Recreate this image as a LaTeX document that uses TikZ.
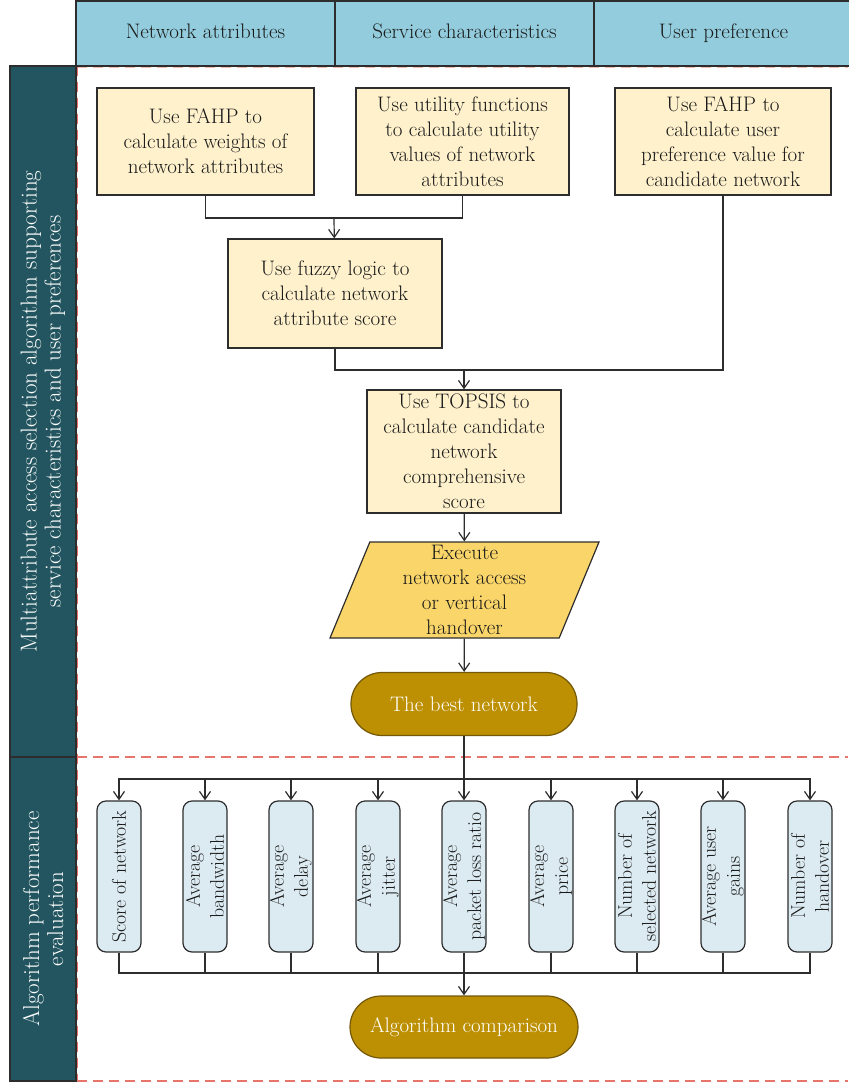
\documentclass[tikz,border=0pt]{standalone}
\usetikzlibrary{arrows.meta,shapes.geometric}

\definecolor{hdrblue}{RGB}{147,205,221}
\definecolor{laneteal}{RGB}{34,85,95}
\definecolor{boxyel}{RGB}{254,241,204}
\definecolor{execyel}{RGB}{250,214,106}
\definecolor{bestgold}{RGB}{189,144,3}
\definecolor{goalline}{RGB}{115,88,10}
\definecolor{metblue}{RGB}{220,235,242}
\definecolor{dashred}{RGB}{232,116,108}
\definecolor{linegray}{RGB}{45,45,45}

\tikzset{every picture/.style={line width=1.2pt},
  txt/.style={font=\fontsize{21pt}{25pt}\selectfont, align=center, inner sep=0pt, text=black!90},
  hdr/.style={txt, draw=linegray, fill=hdrblue, minimum width=259pt, minimum height=65pt, text height=15pt, text depth=4pt},
  lane/.style={txt, font=\fontsize{23pt}{24pt}\selectfont, draw=linegray, fill=laneteal, text=white, rotate=90, minimum height=66pt},
  calcbox/.style={txt, draw=linegray, fill=boxyel},
  execbox/.style={txt, draw=linegray, fill=execyel, trapezium, trapezium left angle=66, trapezium right angle=114, trapezium stretches body, minimum width=269pt, minimum height=96pt},
  goal/.style={txt, draw=goalline, fill=bestgold, text=white, rounded corners=31pt, minimum width=226pt, minimum height=63pt},
  metric/.style={txt, font=\fontsize{19.8pt}{24pt}\selectfont, draw=linegray, fill=metblue, rotate=90, rounded corners=9pt, minimum width=151pt, minimum height=44pt},
  flow/.style={draw=linegray, -{Straight Barb[length=8pt,width=11pt]}},
  link/.style={draw=linegray},
  zone/.style={draw=dashred, line width=1.4pt, dash pattern=on 10pt off 6pt}}

\begin{document}
\begin{tikzpicture}[x=1pt,y=1pt,yscale=-1,xscale=1]
\useasboundingbox (0,0) rectangle (848,1083);

%Dashed zones
\draw[zone] (77,66) -- (77,1081);
\draw[zone, draw opacity=0.5] (77,67) -- (848,67);
\draw[zone] (77,757) -- (848,757);
\draw[zone] (77,1081) -- (848,1081);

%Header
\node[hdr] (hnet) at (205.5,33.5) {Network attributes};
\node[hdr] (hsrv) at (464.5,33.5) {Service characteristics};
\node[hdr] (husr) at (723.5,33.5) {User preference};

%Lanes
\node[lane, minimum width=691pt] (lanesel) at (43,411.5) {Multiattribute access selection algorithm supporting\\service characteristics and user preferences};
\node[lane, minimum width=324pt] (laneeval) at (43,919) {Algorithm performance\\evaluation};

%Selection steps
\node[calcbox, minimum width=217pt, minimum height=107pt] (fahpw) at (205.5,141.5) {Use FAHP to\\calculate weights of\\network attributes};
\node[calcbox, minimum width=213pt, minimum height=107pt] (util) at (462.5,141.5) {Use utility functions\\to calculate utility\\values of network\\attributes};
\node[calcbox, minimum width=216pt, minimum height=107pt] (fahpu) at (723,141.5) {Use FAHP to\\calculate user\\preference value for\\candidate network};
\node[calcbox, minimum width=214pt, minimum height=109pt] (fuzzy) at (335,293.5) {Use fuzzy logic to\\calculate network\\attribute score};
\node[calcbox, minimum width=194pt, minimum height=123pt] (topsis) at (464,451.5) {Use TOPSIS to\\calculate candidate\\network\\comprehensive\\score};
\node[execbox] (exec) at (464.5,590) {Execute\\network access\\or vertical\\handover};
\node[goal] (best) at (464,704) {The best network};

%Joints
\coordinate (jw) at (334,218);
\coordinate (js) at (464,370);
\coordinate (tj) at (464,779);
\coordinate (bj) at (464,973);

%Straight Lines
\draw[link] (fahpw) |- (jw);
\draw[link] (util) |- (jw);
\draw[flow] (jw) -- (fuzzy);
\draw[link] (fuzzy) |- (js);
\draw[link] (fahpu) |- (js);
\draw[flow] (js) -- (topsis);
\draw[flow] (topsis) -- (exec);
\draw[flow] (exec) -- (best);
\draw[link] (best) -- (tj);

%Evaluation metrics
\foreach \i/\xx/\lbl in {1/119/{Score of network}, 2/205/{Average\\bandwidth}, 3/291/{Average\\delay}, 4/378/{Average\\jitter}, 5/464/{Average\\packet loss ratio}, 6/551/{Average\\price}, 7/637/{Number of\\selected network}, 8/723/{Average user\\gains}, 9/810/{Number of\\handover}}
  \node[metric] (m\i) at (\xx,876.5) {\lbl};

\foreach \i in {1,...,9} {
  \draw[flow] (tj) -| (m\i);
  \draw[link] (m\i) |- (bj);
}

\node[goal, minimum width=228pt, minimum height=62pt] (comp) at (464,1027) {Algorithm comparison};
\draw[flow] (bj) -- (comp);

\end{tikzpicture}
\end{document}
